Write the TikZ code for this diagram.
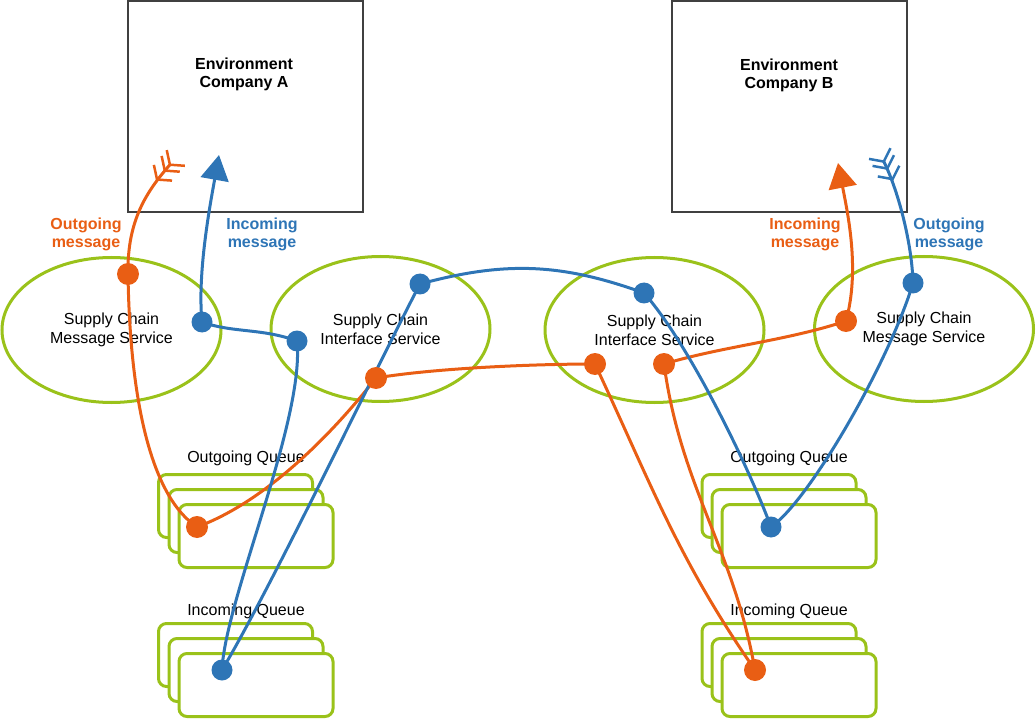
\documentclass[tikz,border=0pt]{standalone}
\usepackage{fontspec}
\setmainfont{Liberation Sans}
\usetikzlibrary{arrows.meta,shapes.geometric}
\definecolor{corange}{RGB}{233,94,20}
\definecolor{cblue}{RGB}{46,117,182}
\definecolor{cgreen}{RGB}{154,194,26}
\definecolor{cbox}{RGB}{64,64,64}
\pgfdeclarelayer{bg}
\pgfdeclarelayer{lines}
\pgfsetlayers{bg,lines,main}
\tikzset{
  envbox/.style={draw=cbox, line width=2pt, minimum width=235pt, minimum height=211pt, inner sep=0pt},
  envtext/.style={font=\bfseries\fontsize{16}{18}\selectfont, align=center, inner sep=0pt},
  service/.style={ellipse, draw=cgreen, line width=3pt, minimum width=219pt, minimum height=145pt, inner sep=0pt, align=center, font=\fontsize{16}{19}\selectfont},
  queuebox/.style={draw=cgreen, fill=white, line width=3pt, rounded corners=8pt, minimum width=154pt, minimum height=63pt, inner sep=0pt},
  queuelabel/.style={font=\fontsize{16}{19}\selectfont, inner sep=0pt},
  lblO/.style={text=corange, font=\bfseries\fontsize{16}{18}\selectfont, align=center, inner sep=0pt},
  lblB/.style={text=cblue, font=\bfseries\fontsize{16}{18}\selectfont, align=center, inner sep=0pt},
  dotO/.style={circle, fill=corange, minimum size=22pt, inner sep=0pt},
  dotB/.style={circle, fill=cblue, minimum size=21pt, inner sep=0pt},
  oline/.style={draw=corange, line width=3pt},
  bline/.style={draw=cblue, line width=3pt},
  fletch/.style={{Straight Barb[reversed,length=9pt,width=24pt,sep=-4pt,line width=2.5pt]Straight Barb[reversed,length=9pt,width=24pt,sep=-4pt,line width=2.5pt]Straight Barb[reversed,length=9pt,width=24pt,line width=2.5pt]}-},
  headtip/.style={-{Triangle[length=25pt,width=28pt]}}
}
\begin{document}
\begin{tikzpicture}[x=1pt,y=-1pt]
\useasboundingbox (0,0) rectangle (1036,719);
\begin{pgfonlayer}{bg}
  \node[envbox] (envA) at (245.5,106.5) {};
  \node[envbox] (envB) at (789,106.5) {};
  \node[envtext] (tA) at (244,74) {Environment\\Company A};
  \node[envtext] (tB) at (789,75) {Environment\\Company B};
  \node[service] (s1) at (111.5,330) {Supply Chain\\Message Service};
  \node[service] (s2) at (380.5,329) {Supply Chain\\Interface Service};
  \node[service] (s3) at (654.5,330) {Supply Chain\\Interface Service};
  \node[service] (s4) at (924,329) {Supply Chain\\Message Service};
  % left outgoing queue
  \node[queuebox] (qoa1) at (235.5,506) {};
  \node[queuebox] (qoa2) at (246,521) {};
  \node[queuebox] (qoa3) at (256,536) {};
  \node[queuelabel] (lqoa) at (246,458) {Outgoing Queue};
  % left incoming queue
  \node[queuebox] (qia1) at (235.5,655) {};
  \node[queuebox] (qia2) at (246,670) {};
  \node[queuebox] (qia3) at (256,685) {};
  \node[queuelabel] (lqia) at (246,611) {Incoming Queue};
  % right outgoing queue
  \node[queuebox] (qob1) at (779,506) {};
  \node[queuebox] (qob2) at (789,521) {};
  \node[queuebox] (qob3) at (799,536) {};
  \node[queuelabel] (lqob) at (789,458) {Outgoing Queue};
  % right incoming queue
  \node[queuebox] (qib1) at (779,655) {};
  \node[queuebox] (qib2) at (789,670) {};
  \node[queuebox] (qib3) at (799,685) {};
  \node[queuelabel] (lqib) at (789,611) {Incoming Queue};
  % labels
  \node[lblO] (lOA) at (86,234) {Outgoing\\message};
  \node[lblB] (lIA) at (262,234) {Incoming\\message};
  \node[lblO] (lIB) at (805,234) {Incoming\\message};
  \node[lblB] (lOB) at (949,234) {Outgoing\\message};
\end{pgfonlayer}
% free ends
\coordinate (tailA) at (174,160);
\coordinate (tipA) at (219,155);
\coordinate (tailB) at (881,156);
\coordinate (tipB) at (838,163);
% orange dots
\node[dotO] (o1) at (128,274) {};
\node[dotO] (oq) at (197,527) {};
\node[dotO] (o2) at (376,378) {};
\node[dotO] (o3) at (595,364) {};
\node[dotO] (oiq) at (755,670) {};
\node[dotO] (o4) at (664,364) {};
\node[dotO] (o5) at (846,321) {};
% blue dots
\node[dotB] (b5) at (913,283) {};
\node[dotB] (bq) at (771,527) {};
\node[dotB] (b4) at (644,293) {};
\node[dotB] (b3) at (420,284) {};
\node[dotB] (biq) at (222,670) {};
\node[dotB] (b2) at (297,341) {};
\node[dotB] (b1) at (202,322) {};
\begin{pgfonlayer}{lines}
  % orange flow: A out -> B in
  \draw[oline, fletch] (tailA) .. controls +(-26,30) and +(-1,-55) .. (o1.center);
  \draw[oline] (o1.center) .. controls +(2,130) and +(-45,-30) .. (oq.center);
  \draw[oline] (oq.center) .. controls +(60,-22) and +(-55,70) .. (o2.center);
  \draw[oline] (o2.center) .. controls +(60,-10) and +(-60,0) .. (o3.center);
  \draw[oline] (o3.center) .. controls +(57,122) and +(-77,-111) .. (oiq.center);
  \draw[oline] (o4.center) .. controls +(17,124) and +(-22,-123) .. (oiq.center);
  \draw[oline] (o4.center) .. controls +(60,-18) and +(-60,20) .. (o5.center);
  \draw[oline, headtip] (o5.center) .. controls +(14,-51) and +(10,52) .. (tipB);
  % blue flow: B out -> A in
  \draw[bline, fletch] (tailB) .. controls +(17,34) and +(-1,-40) .. (b5.center);
  \draw[bline] (b5.center) .. controls +(-23,77) and +(39,-27) .. (bq.center);
  \draw[bline] (b4.center) .. controls +(46,52) and +(-21,-57) .. (bq.center);
  \draw[bline] (b3.center) .. controls +(85,-23) and +(-83,-30) .. (b4.center);
  \draw[bline] (biq.center) .. controls +(48,-80) and +(-40,76) .. (b3.center);
  \draw[bline] (b2.center) .. controls +(8,79) and +(3,-70) .. (biq.center);
  \draw[bline] (b1.center) .. controls +(30,11) and +(-35,-13) .. (b2.center);
  \draw[bline, headtip] (b1.center) .. controls +(-5,-50) and +(-8,45) .. (tipA);
\end{pgfonlayer}
\end{tikzpicture}
\end{document}
